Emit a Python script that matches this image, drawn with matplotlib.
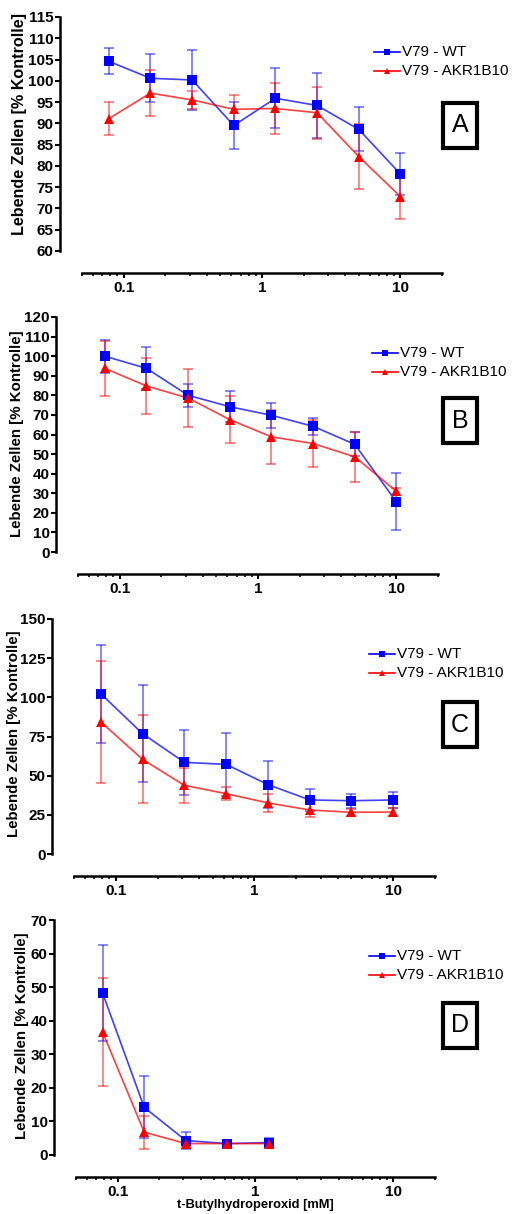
import matplotlib
matplotlib.use("Agg")
import matplotlib.pyplot as plt
from matplotlib.patches import Rectangle
from matplotlib.ticker import LogLocator, FixedLocator, NullFormatter, FixedFormatter

plt.rcParams['font.family'] = ['Liberation Sans', 'DejaVu Sans']

# ---- data ----
conc = [0.078, 0.156, 0.3125, 0.625, 1.25, 2.5, 5, 10]
conc_d = [0.078, 0.156, 0.3125, 0.625, 1.25]

a_wt = [104.6, 100.6, 100.2, 89.5, 95.9, 94.2, 88.6, 78.1]
a_wt_err = [3.0, 5.6, 7.1, 5.5, 7.1, 7.7, 5.2, 5.0]
a_ak = [91.1, 97.1, 95.5, 93.3, 93.5, 92.5, 82.2, 72.8]
a_ak_err = [3.9, 5.4, 2.1, 3.3, 5.9, 6.1, 7.7, 5.3]

b_wt = [100.0, 93.8, 80.0, 74.2, 69.8, 64.2, 55.0, 25.6]
b_wt_err = [8.4, 10.7, 5.9, 7.8, 6.5, 4.2, 6.1, 14.5]
b_ak = [93.8, 84.8, 78.6, 67.6, 58.8, 55.4, 48.6, 31.0]
b_ak_err = [14.0, 14.5, 14.8, 12.0, 13.9, 12.0, 12.6, 1.9]

c_wt = [102.3, 76.8, 58.5, 57.2, 44.3, 34.5, 34.0, 34.5]
c_wt_err = [31.3, 31.0, 20.8, 20.2, 15.2, 7.0, 4.6, 5.3]
c_ak = [84.3, 60.4, 43.8, 38.5, 32.6, 28.1, 26.6, 26.8]
c_ak_err = [38.7, 28.1, 11.2, 4.1, 5.5, 4.8, 2.4, 2.3]

d_wt = [48.2, 14.2, 4.3, 3.4, 3.7]
d_wt_err = [14.3, 9.2, 2.6, 1.1, 1.3]
d_ak = [36.6, 6.8, 3.4, 3.4, 3.4]
d_ak_err = [16.1, 4.9, 0.9, 0.9, 0.9]

series_labels = ["V79 - WT", "V79 - AKR1B10"]
panel_letters = ["A", "B", "C", "D"]
y_ranges = [(60, 115, 5), (0, 120, 10), (0, 150, 25), (0, 70, 10)]
xlabel_text = "t-Butylhydroperoxid [mM]"
ylabel_text = "Lebende Zellen [% Kontrolle]"
xtick_vals = [0.1, 1, 10]
xtick_labels = ["0.1", "1", "10"]

panels = [
    (conc, a_wt, a_wt_err, a_ak, a_ak_err),
    (conc, b_wt, b_wt_err, b_ak, b_ak_err),
    (conc, c_wt, c_wt_err, c_ak, c_ak_err),
    (conc_d, d_wt, d_wt_err, d_ak, d_ak_err),
]

W, H = 512, 1214
fig = plt.figure(figsize=(W / 100, H / 100), dpi=100)

# axes boxes in pixels: (left, top, right, bottom)
boxes = [(82, 17, 442, 251), (78, 317, 438, 552), (74, 619, 435, 854), (76, 920, 435, 1155)]
legend_pos = [(374, 52), (372, 353), (369, 654), (369, 956)]
letter_boxes = [(443, 103), (443, 398), (443, 702), (443, 1003)]
ylabel_pos = [(20, 124, 11.6), (17, 434, 10.8), (14, 734, 10.8), (22, 1036, 10.8)]

BLUE = (0, 0, 1)
RED = (1, 0, 0)

for i, (xs, wt, wte, ak, ake) in enumerate(panels):
    l, t, r, b = boxes[i]
    ax = fig.add_axes([l / W, 1 - b / H, (r - l) / W, (b - t) / H])
    ax.set_xscale('log')
    ax.set_xlim(0.05, 20)
    y0, y1, ys = y_ranges[i]
    ax.set_ylim(y0, y1)
    ax.set_yticks(list(range(y0, y1 + 1, ys)))

    for ys_, es_, col, mk, ms in [(wt, wte, BLUE, 's', 6.5), (ak, ake, RED, '^', 6.5)]:
        ax.errorbar(xs, ys_, yerr=es_, fmt='none', ecolor=col, alpha=0.55,
                    elinewidth=1.2, capsize=3.5, capthick=1.2, zorder=2)
        ax.plot(xs, ys_, '-', color=col, alpha=0.75, lw=1.2, zorder=3)
        ax.plot(xs, ys_, linestyle='none', marker=mk, color=col, ms=ms,
                markeredgewidth=0, zorder=4, clip_on=False)

    for s in ['top', 'right']:
        ax.spines[s].set_visible(False)
    ax.spines['left'].set_position(('outward', 16))
    ax.spines['bottom'].set_position(('outward', 16))
    ax.spines['left'].set_linewidth(1.8)
    ax.spines['bottom'].set_linewidth(1.8)
    ax.xaxis.set_major_locator(FixedLocator(xtick_vals))
    ax.xaxis.set_major_formatter(FixedFormatter(xtick_labels))
    ax.xaxis.set_minor_locator(LogLocator(base=10, subs=range(2, 10)))
    ax.xaxis.set_minor_formatter(NullFormatter())
    ax.tick_params(axis='both', which='major', length=3.8, width=1.5, labelsize=11, pad=0.6)
    ax.tick_params(axis='x', which='major', pad=1.5)
    ax.tick_params(axis='x', which='minor', length=2.4, width=1.2)
    for lab in ax.get_xticklabels() + ax.get_yticklabels():
        lab.set_fontweight('bold')
    yx, yy, ysz = ylabel_pos[i]
    fig.text(yx / W, 1 - yy / H, ylabel_text, rotation=90, fontsize=ysz,
             fontweight='bold', ha='center', va='center')
    if i == 3:
        fig.text(255 / W, 1 - 1205 / H, xlabel_text, fontsize=9.3,
                 fontweight='bold', ha='center', va='center')
    ax.patch.set_visible(False)

    # legend (manual)
    lx, ly = legend_pos[i]
    for k, (col, mk) in enumerate([(BLUE, 's'), (RED, '^')]):
        yy2 = 1 - (ly + 19 * k) / H
        fig.add_artist(plt.Line2D([lx / W, (lx + 26) / W], [yy2, yy2], color=col, lw=1.2,
                                  transform=fig.transFigure))
        fig.add_artist(plt.Line2D([(lx + 13) / W], [yy2], color=col, marker=mk, ms=5,
                                  markeredgewidth=0, transform=fig.transFigure))
        fig.text((lx + 28) / W, yy2, series_labels[k], fontsize=11, va='center', ha='left')

    # letter box
    bx, by = letter_boxes[i]
    fig.add_artist(Rectangle((bx / W, 1 - (by + 45) / H), 34 / W, 45 / H, fill=False,
                             lw=3, edgecolor='black', transform=fig.transFigure))
    fig.text((bx + 17) / W, 1 - (by + 22.5) / H, panel_letters[i], fontsize=18,
             ha='center', va='center')

fig.savefig("out.png", dpi=100)
